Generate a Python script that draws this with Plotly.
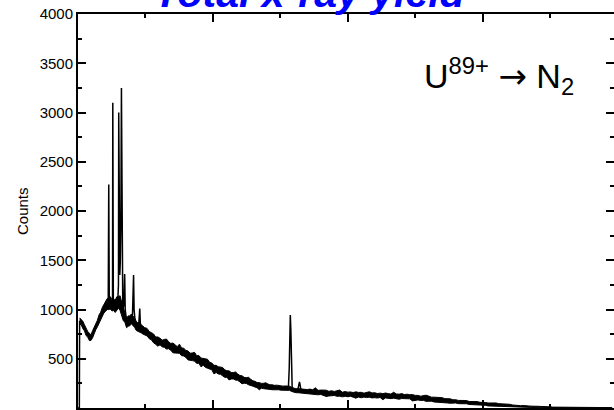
import plotly.graph_objects as go

# ---- continuum: noise band (channel, upper edge, lower edge) ----
band_ch_a = [6, 12, 18, 24, 30, 36, 42, 48, 54, 60, 66, 72, 78, 84, 90, 96, 102, 108, 114, 120, 126, 132,
             138, 144, 150, 156, 162, 168, 174, 180, 186, 192, 198, 204, 210, 216, 222, 228, 234, 240, 246, 252]
band_hi_a = [915, 900, 880, 845, 810, 777, 760, 742, 785, 819, 870, 891, 945, 973, 1020, 1050, 1080, 1110,
             1115, 1130, 1100, 1105, 1095, 1130, 1130, 1140, 1075, 1010, 975, 910, 935, 935, 955, 938, 912,
             880, 862, 870, 843, 834, 816, 812]
band_lo_a = [850, 846, 805, 783, 735, 720, 685, 686, 712, 757, 795, 824, 862, 902, 935, 965, 980, 1000, 1000,
             1005, 985, 990, 970, 990, 1015, 990, 930, 885, 870, 815, 830, 835, 855, 840, 818, 787, 780, 775,
             763, 752, 740, 736]

band_ch_b = list(range(256, 833, 8))
band_hi_b = [808, 777, 767, 752, 720, 722, 708, 688, 696, 700, 673, 655, 660, 641, 623, 648, 610, 606, 585,
             579, 556, 559, 565, 531, 533, 507, 503, 494, 495, 465, 457, 433, 433, 419, 415, 412, 388, 378,
             377, 360, 360, 366, 346, 330, 327, 311, 308, 312, 293, 277, 271, 258, 258, 250, 251, 256, 244,
             235, 236, 230, 232, 228, 228, 222, 224, 221,
             221, 210, 201, 195, 197, 194, 194]
band_lo_b = [733, 704, 692, 662, 646, 628, 641, 621, 616, 598, 602, 586, 560, 562, 557, 555, 531, 528, 513,
             488, 487, 481, 476, 453, 455, 418, 434, 413, 404, 394, 388, 346, 361, 345, 343, 327, 311, 312,
             285, 294, 295, 283, 281, 265, 246, 252, 249, 236, 231, 222, 213, 205, 185, 201, 196, 196, 191,
             189, 185, 187, 183, 185, 181, 180, 181, 179,
             179, 168, 159, 155, 155, 152, 154]

band_ch_d = list(range(840, 1981, 10))
band_hi_d = [195, 187, 192, 185, 205, 179, 182, 178, 181, 169, 175, 168, 175, 182, 160, 167, 161, 163, 157,
             164, 158, 159, 151, 160, 165, 153, 155, 147, 151, 146, 152, 146, 141, 160, 143, 140, 146, 136,
             140, 135, 136, 128, 128, 120, 124, 130, 121, 110, 110, 109, 103, 105, 95, 97, 93,
             83, 84, 77, 78, 74, 76, 66, 68, 64, 65, 58, 59, 56, 51, 53, 49, 51, 44, 44, 44, 38, 38,
             31, 27, 28, 24, 25, 20, 21, 19, 20, 15, 17, 15, 16, 12, 12, 9, 9,
             5, 6, 4, 6, 5, 4, 6, 5, 4, 5, 6, 4, 5, 4, 5, 4, 5, 4, 4, 5, 4]
band_lo_d = [150, 142, 145, 135, 138, 134, 138, 128, 117, 122, 125, 127, 119, 120, 113, 119, 114, 119, 110,
             100, 111, 104, 111, 106, 110, 102, 105, 101, 107, 84, 102, 99, 95, 100, 94, 89, 96, 93, 89,
             93, 72, 79, 82, 76, 78, 68, 70, 69, 61, 60, 54, 59, 51, 51, 48,
             51, 51, 44, 45, 40, 43, 36, 35, 30, 32, 26, 26, 27, 21, 20, 15, 18, 12, 13, 13, 8, 9,
             12, 8, 9, 5, 5, 1, 2, 0, 1, 0, 1, 0, 0, 0, 0, 0, 0,
             0, 0, 0, 0, 0, 0, 0, 0, 0, 0, 0, 0, 0, 0, 0, 0, 0, 0, 0, 0, 0]

# ---- sharp lines (channel, counts) ----
edge_ch = [0, 5, 6]
edge_counts = [0, 0, 885]
cluster1_ch = [104, 110, 112, 114, 116, 120, 126, 128, 129, 131, 136, 142, 148, 150, 151, 153, 155, 157, 159,
               161, 163, 166, 170, 173, 175, 180]
cluster1_counts = [1040, 1060, 1030, 2270, 1050, 1080, 1040, 1090, 3100, 1060, 1020, 1050, 1120, 1250, 3000,
                   1500, 1350, 1500, 1900, 3250, 1300, 1000, 1050, 1360, 1000, 880]
cluster2_ch = [196, 202, 206, 208, 212, 218, 225, 229, 231, 236]
cluster2_counts = [920, 950, 1350, 1000, 870, 860, 840, 1010, 860, 810]
line_k_ch = [770, 780, 783, 785, 787, 789, 791, 794, 800, 812, 816, 819, 821, 823, 826, 832]
line_k_counts = [205, 208, 400, 800, 945, 800, 450, 200, 180, 180, 200, 250, 265, 240, 190, 175]

y_tickvals = [500, 1000, 1500, 2000, 2500, 3000, 3500, 4000]
y_ticktext = [str(v) for v in y_tickvals]
y_minor = [250, 750, 1250, 1750, 2250, 2750, 3250, 3750]

FONT = "Arial, Liberation Sans, sans-serif"

band_ch = band_ch_a + band_ch_b + band_ch_d
band_hi = band_hi_a + band_hi_b + band_hi_d
band_lo = band_lo_a + band_lo_b + band_lo_d

fig = go.Figure()
fig.add_trace(go.Scatter(x=band_ch, y=band_lo, mode="lines", line=dict(color="black", width=1),
                         hoverinfo="skip", showlegend=False))
fig.add_trace(go.Scatter(x=band_ch, y=band_hi, mode="lines", line=dict(color="black", width=1),
                         fill="tonexty", fillcolor="black", hoverinfo="skip", showlegend=False))
for xs, ys in [(edge_ch, edge_counts), (cluster1_ch, cluster1_counts),
               (cluster2_ch, cluster2_counts), (line_k_ch, line_k_counts)]:
    fig.add_trace(go.Scatter(x=xs, y=ys, mode="lines", line=dict(color="black", width=1.5),
                             hoverinfo="skip", showlegend=False))
fig.add_trace(go.Scatter(x=[None], y=[None], yaxis="y2", showlegend=False, hoverinfo="skip"))

axis_common = dict(showgrid=False, zeroline=False, ticks="inside", tickcolor="black", tickwidth=1.5)

fig.update_layout(
    width=614, height=410,
    margin=dict(l=78, r=0, t=14, b=2),
    paper_bgcolor="white", plot_bgcolor="white",
    font=dict(family=FONT, color="black"),
    xaxis=dict(range=[0, 1987], showticklabels=False, tick0=0, dtick=500, ticklen=8,
               showline=True, linecolor="black", linewidth=2, mirror="ticks",
               minor=dict(ticks="inside", dtick=250, ticklen=4, tickcolor="black", tickwidth=1.5),
               **axis_common),
    yaxis=dict(range=[0, 4000], tickvals=y_tickvals, ticktext=y_ticktext, ticklen=8,
               showline=True, linecolor="black", linewidth=2,
               tickfont=dict(size=15, family=FONT, color="black"),
               minor=dict(ticks="inside", tickvals=y_minor, ticklen=4, tickcolor="black", tickwidth=1.5),
               **axis_common),
    yaxis2=dict(range=[0, 4000], overlaying="y", side="right", showticklabels=False, showline=False,
                tickvals=y_tickvals, ticklen=8,
                minor=dict(ticks="inside", tickvals=y_minor, ticklen=4, tickcolor="black", tickwidth=1.5),
                **axis_common),
)

fig.add_annotation(text="<b><i>Total x-ray yield</i></b>", xref="paper", yref="paper",
                   x=(310 - 78) / 536, y=(408 - 18) / 394, xanchor="center", yanchor="bottom",
                   showarrow=False, font=dict(size=41, color="#0000ff", family=FONT))
fig.add_annotation(text="Counts", xref="paper", yref="paper", textangle=-90,
                   x=(22 - 78) / 536, y=0.5, xanchor="center", yanchor="middle",
                   showarrow=False, font=dict(size=15, color="black", family=FONT))
fig.add_annotation(text="U<sup>89+</sup> <span style=\"font-family:DejaVu Sans\">→</span> N<sub>2</sub>",
                   xref="paper", yref="paper",
                   x=(576 - 78) / 536, y=(408 - 76) / 394, xanchor="right", yanchor="middle",
                   showarrow=False, font=dict(size=34, color="black", family=FONT))

fig.write_html("out.html")
